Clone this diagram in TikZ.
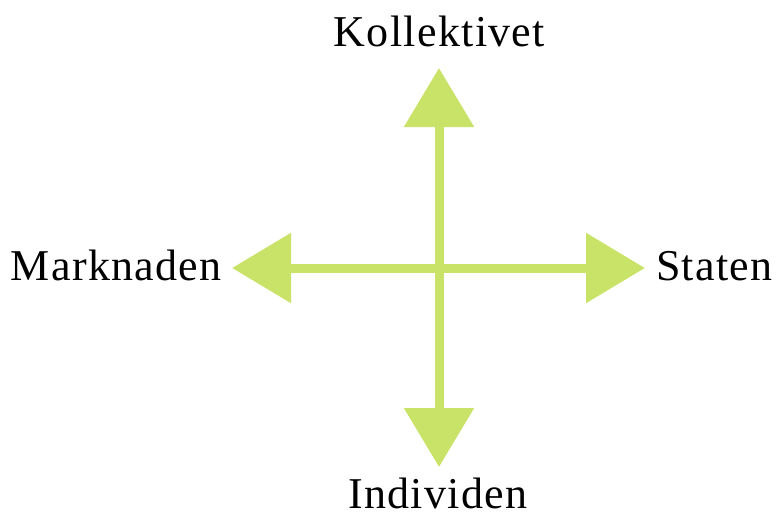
\documentclass[tikz,border=0pt]{standalone}
\usepackage{fontspec}
\setmainfont{Liberation Serif}[LetterSpace=3]
\usetikzlibrary{arrows.meta}
\definecolor{arrowgreen}{RGB}{201,226,104}
\tikzset{
  axis/.style={draw=arrowgreen, line width=9pt, -{Triangle[width=68pt,length=59pt]}},
  lbl/.style={inner sep=0pt, font=\fontsize{44}{50}\selectfont, text=black}
}
\begin{document}
\begin{tikzpicture}[x=1pt,y=-1pt]
\useasboundingbox (0,0) rectangle (778,511);
\coordinate (c) at (439,268);
\coordinate (top) at (439,68);
\coordinate (bot) at (439,467);
\coordinate (left) at (232,268);
\coordinate (right) at (645,268);
\draw[axis] (c) -- (top);
\draw[axis] (c) -- (bot);
\draw[axis] (c) -- (left);
\draw[axis] (c) -- (right);
\node[lbl, anchor=base] (koll) at (439.5,46.5) {Kollektivet};
\node[lbl, anchor=base east] (mark) at (222,280) {Marknaden};
\node[lbl, anchor=base west] (stat) at (656,280) {Staten};
\node[lbl, anchor=base] (indi) at (438,508) {Individen};
\end{tikzpicture}
\end{document}
